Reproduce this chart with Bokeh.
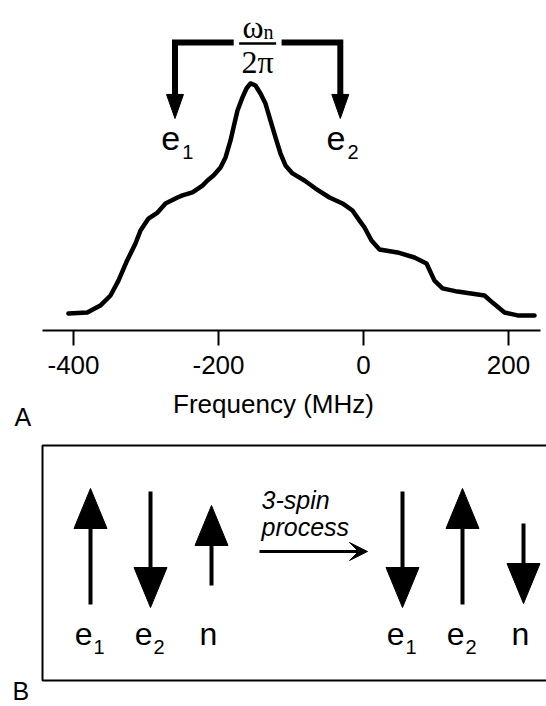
from bokeh.plotting import figure
from bokeh.models import Range1d, FixedTicker, Title, Arrow, VeeHead, ColumnDataSource
from bokeh.layouts import column
from bokeh.core.properties import value
from bokeh.embed import file_html
from bokeh.resources import INLINE

# ---------------- data (panel A: spectrum) ----------------
freq_mhz = [-407, -381, -363, -349, -338, -326, -314.5, -307.6, -296.6, -284.1,
            -273.1, -256.6, -249.7, -235.9, -222.1, -215.2, -206.9, -197.2, -190.3,
            -183.4, -179.3, -173.8, -166.9, -161.4, -155.9, -149, -142.1, -135.2,
            -128.3, -121.4, -114.5, -107.6, -97.9, -81.4, -66.2, -46.9, -29, -15.2,
            -5.5, 1.4, 11, 22.1, 46.9, 70.3, 86.9, 97.9, 109, 129.7, 166.9, 177.9,
            194.5, 212.4, 235.9]
intensity = [0.004, 0.009, 0.039, 0.083, 0.148, 0.236, 0.310, 0.367, 0.419, 0.445,
             0.485, 0.511, 0.520, 0.533, 0.563, 0.585, 0.607, 0.642, 0.686,
             0.760, 0.817, 0.891, 0.948, 0.987, 1.009, 1.000, 0.965, 0.921,
             0.847, 0.773, 0.703, 0.651, 0.616, 0.585, 0.550, 0.511, 0.485, 0.454,
             0.410, 0.380, 0.323, 0.284, 0.271, 0.249, 0.223, 0.148, 0.114, 0.100,
             0.083, 0.052, 0.009, -0.004, -0.004]
tick_values = [-400, -200, 0, 200]
tick_labels = ["-400", "-200", "0", "200"]
axis_extent = [-443, 244]
electron_freqs = [-260, -32]          # e1, e2 (separated by omega_n / 2pi)
electron_subs = ["1", "2"]

# ---------------- data (panel B: spin flip scheme) ----------------
spins_before = ["e1", "e2", "n"]
dirs_before = ["up", "down", "up"]
spins_after = ["e1", "e2", "n"]
dirs_after = ["down", "up", "down"]

FONT = "Liberation Sans"
SERIF = "Liberation Serif"

# ================= Panel A =================
p1 = figure(width=546, height=435, x_range=Range1d(-500.69, 252.41),
            y_range=Range1d(-0.0699, 1.3712), output_backend="svg",
            toolbar_location=None, y_axis_location=None,
            min_border_left=0, min_border_right=0, min_border_top=0,
            min_border_bottom=105)
p1.grid.visible = False
p1.outline_line_color = None
ax = p1.xaxis[0]
ax.bounds = tuple(axis_extent)
ax.ticker = FixedTicker(ticks=tick_values)
ax.major_label_overrides = dict(zip(tick_values, tick_labels))
ax.minor_tick_line_color = None
ax.major_tick_in = 0
ax.major_tick_out = 15
ax.axis_line_width = 2
ax.major_tick_line_width = 2
ax.axis_line_color = "black"
ax.major_tick_line_color = "black"
ax.major_label_text_font = FONT
ax.major_label_text_font_size = "26px"
ax.major_label_text_color = "black"
ax.major_label_standoff = 10
ax.axis_label = "Frequency (MHz)"
ax.axis_label_text_font = FONT
ax.axis_label_text_font_size = "26px"
ax.axis_label_text_font_style = "normal"
ax.axis_label_text_color = "black"
ax.axis_label_standoff = 12

p1.add_layout(Title(text="A", align="left", offset=14, vertical_align="top",
                    standoff=-38, text_font=FONT, text_font_size="25px",
                    text_font_style="normal", text_color="black"), "below")

p1.line(freq_mhz, intensity, line_width=4.5, color="black",
        line_join="round", line_cap="round")

# bracket with arrows pointing to e1 and e2
x1, x2 = electron_freqs
mid = (x1 + x2) / 2.0
gap = 33.0
bar_y = 1.188
tip_y = 0.856
head_len = 0.105
head_w = 23.4
p1.multi_line(xs=[[mid - gap, x1, x1], [mid + gap, x2, x2]],
              ys=[[bar_y, bar_y, tip_y + head_len * 0.6]] * 2,
              line_width=6, color="black", line_join="miter")
p1.patches(xs=[[x - head_w / 2, x + head_w / 2, x] for x in electron_freqs],
           ys=[[tip_y + head_len, tip_y + head_len, tip_y] for _ in electron_freqs],
           fill_color="black", line_color="black", line_width=1)

# omega_n / 2pi fraction
p1.text(x=[mid + 8], y=[1.2568], text=["ω"], text_align="right",
        text_baseline="middle", text_font=value(SERIF),
        text_font_size="32px", text_color="black")
p1.text(x=[mid + 8], y=[1.2347], text=["n"], text_align="left",
        text_baseline="middle", text_font=value(SERIF),
        text_font_size="20px", text_color="black")
p1.segment(x0=[mid - 25.5], y0=[1.183], x1=[mid + 25.5], y1=[1.183],
           line_width=2.5, color="black")
p1.text(x=[mid], y=[1.1039], text=["2π"], text_align="center",
        text_baseline="middle", text_font=value(SERIF),
        text_font_size="32px", text_color="black")

# e1, e2 labels
p1.text(x=[x + 7 for x in electron_freqs], y=[0.7677] * 2, text=["e"] * 2,
        text_align="right", text_baseline="middle", text_font=value(FONT),
        text_font_size="34px", text_color="black")
p1.text(x=[x + 10 for x in electron_freqs], y=[0.7113] * 2, text=electron_subs,
        text_align="left", text_baseline="middle", text_font=value(FONT),
        text_font_size="20px", text_color="black")

# ================= Panel B =================
p2 = figure(width=546, height=271, x_range=Range1d(0, 546),
            y_range=Range1d(706, 435), output_backend="svg",
            toolbar_location=None, x_axis_location=None, y_axis_location=None,
            min_border=0)
p2.grid.visible = False
p2.outline_line_color = None

p2.quad(left=[42], right=[560], top=[445], bottom=[680], fill_color=None,
        line_color="black", line_width=2)

group_x = [90, 402]
offsets = [0, 60, 121]
extent = {("e", "up"): (488, 604), ("e", "down"): (491, 607),
          ("n", "up"): (505, 585), ("n", "down"): (523, 603)}
L, W = 40, 33

shaft = dict(x0=[], y0=[], x1=[], y1=[])
heads_x, heads_y = [], []
lab_e = dict(x=[], y=[], text=[])
lab_sub = dict(x=[], y=[], text=[])
lab_n = dict(x=[], y=[], text=[])
for gx, spins, dirs in [(group_x[0], spins_before, dirs_before),
                        (group_x[1], spins_after, dirs_after)]:
    for off, s, d in zip(offsets, spins, dirs):
        x = gx + off
        kind = "n" if s == "n" else "e"
        top, bot = extent[(kind, d)]
        if d == "up":
            shaft["x0"].append(x); shaft["y0"].append(bot)
            shaft["x1"].append(x); shaft["y1"].append(top + L * 0.5)
            heads_x.append([x, x - W / 2, x + W / 2])
            heads_y.append([top, top + L, top + L])
        else:
            shaft["x0"].append(x); shaft["y0"].append(top)
            shaft["x1"].append(x); shaft["y1"].append(bot - L * 0.5)
            heads_x.append([x, x - W / 2, x + W / 2])
            heads_y.append([bot, bot - L, bot - L])
        if kind == "e":
            lab_e["x"].append(x + 2); lab_e["y"].append(633.9); lab_e["text"].append("e")
            lab_sub["x"].append(x + 3); lab_sub["y"].append(646.1); lab_sub["text"].append(s[1])
        else:
            lab_n["x"].append(x - 3); lab_n["y"].append(633.9); lab_n["text"].append("n")

p2.segment(source=ColumnDataSource(shaft), x0="x0", y0="y0", x1="x1", y1="y1",
           line_width=4, color="black", line_cap="butt")
p2.patches(xs=heads_x, ys=heads_y, fill_color="black", line_color="black",
           line_width=1)
p2.text(source=ColumnDataSource(lab_e), x="x", y="y", text="text",
        text_align="right", text_baseline="middle", text_font=value(FONT),
        text_font_size="32px", text_color="black")
p2.text(source=ColumnDataSource(lab_sub), x="x", y="y", text="text",
        text_align="left", text_baseline="middle", text_font=value(FONT),
        text_font_size="20px", text_color="black")
p2.text(source=ColumnDataSource(lab_n), x="x", y="y", text="text",
        text_align="center", text_baseline="middle", text_font=value(FONT),
        text_font_size="32px", text_color="black")

p2.add_layout(Arrow(end=VeeHead(size=18, fill_color="black", line_color="black"),
                    x_start=259, y_start=551, x_end=367, y_end=551,
                    line_width=3, line_color="black"))
p2.text(x=[261, 261], y=[499.3, 526.3], text=["3-spin", "process"],
        text_align="left", text_baseline="middle", text_font=value(FONT),
        text_font_style="italic", text_font_size="25px", text_color="black")

p2.text(x=[12], y=[690], text=["B"], text_align="left",
        text_baseline="middle", text_font=value(FONT),
        text_font_size="25px", text_color="black")

layout = column(p1, p2, spacing=0)
open("out.html", "w").write(file_html(layout, INLINE, "spectrum"))
